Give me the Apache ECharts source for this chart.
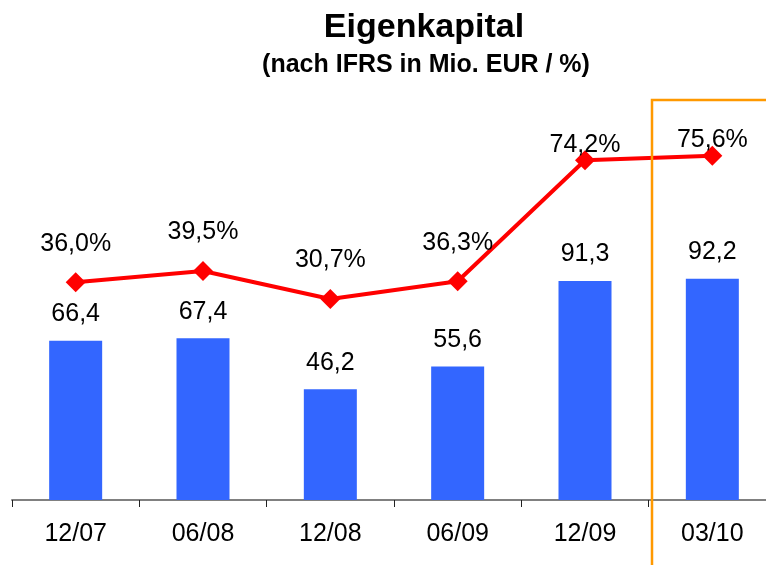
<!DOCTYPE html>
<html>
<head>
<meta charset="utf-8">
<script src="https://cdn.jsdelivr.net/npm/echarts@6/dist/echarts.min.js"></script>
<style>
  html, body { margin: 0; padding: 0; background: #fff; }
  #chart { width: 766px; height: 565px; }
</style>
</head>
<body>
<div id="chart"></div>
<script>
const categories = ["12/07", "06/08", "12/08", "06/09", "12/09", "03/10"];
const equity = [66.4, 67.4, 46.2, 55.6, 91.3, 92.2];
const equityRatio = [36.0, 39.5, 30.7, 36.3, 74.2, 75.6];

const fmt = (v) => v.toFixed(1).replace(".", ",");

const myChart = echarts.init(document.getElementById("chart"));

const option = {
  animation: false,
  textStyle: { fontFamily: "Liberation Sans, Arial, sans-serif" },
  title: [
    {
      text: "Eigenkapital",
      left: 419,
      top: 6,
      textAlign: "center",
      textStyle: { fontSize: 34, fontWeight: "bold", color: "#000" },
    },
    {
      text: "(nach IFRS in Mio. EUR / %)",
      left: 421,
      top: 48,
      textAlign: "center",
      textStyle: { fontSize: 25, fontWeight: "bold", color: "#000" },
    },
  ],
  grid: { left: 12, top: 100, width: 764, bottom: 65, outerBoundsMode: "none" },
  xAxis: {
    type: "category",
    data: categories,
    axisLine: { lineStyle: { color: "#808080", width: 2 } },
    axisTick: { show: true, length: 7, lineStyle: { color: "#222", width: 1 } },
    axisLabel: { fontSize: 25, color: "#000", margin: 22 },
  },
  yAxis: [
    { type: "value", min: 0, max: 166.7, show: false },
    { type: "value", min: -32.3, max: 93.1, show: false },
  ],
  series: [
    {
      type: "bar",
      data: equity,
      barWidth: 53,
      itemStyle: { color: "#3366FF" },
      label: {
        show: true,
        position: "top",
        distance: 14,
        fontSize: 25,
        color: "#000",
        formatter: (p) => fmt(p.value),
      },
    },
    {
      type: "line",
      yAxisIndex: 1,
      data: equityRatio.map((v, i) => ({
        value: v,
        label: { distance: i >= 4 ? -7 : 16 },
      })),
      symbol: "diamond",
      symbolSize: 20,
      lineStyle: { color: "#FF0000", width: 4 },
      itemStyle: { color: "#FF0000" },
      label: {
        show: true,
        position: "top",
        fontSize: 25,
        color: "#000",
        formatter: (p) => fmt(p.value) + "%",
      },
      z: 5,
    },
  ],
  graphic: [
    {
      type: "rect",
      shape: { x: 652, y: 100, width: 140, height: 500 },
      style: { fill: "none", stroke: "#FF9900", lineWidth: 2.5 },
      z: 10,
    },
  ],
};

option && myChart.setOption(option);
</script>
</body>
</html>
